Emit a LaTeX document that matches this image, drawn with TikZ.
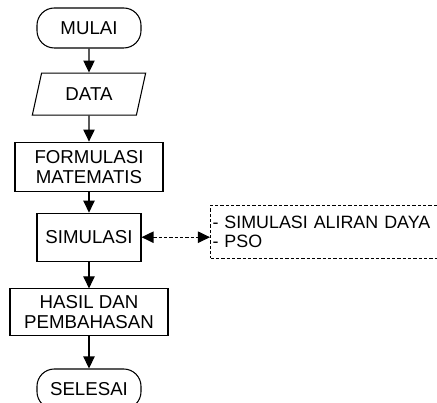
\documentclass[tikz,border=0pt]{standalone}
\usepackage{fontspec}
\setmainfont{Liberation Sans}
\usetikzlibrary{shapes,arrows.meta,positioning,shapes.geometric}

\begin{document}
\begin{tikzpicture}[x=0.75pt, y=0.75pt, node distance=18pt, font=\fontsize{14}{15}\selectfont,
    line width=0.8pt, inner sep=2pt, >={Triangle[length=9pt, width=8.5pt]}]
    \useasboundingbox (0,0) rectangle (437,403);
    % Nodes
    \node[draw, rounded corners=13pt, minimum width=78pt, minimum height=30pt] (mulai) at (89,375) {MULAI};
    \node[draw, trapezium, trapezium left angle=63, trapezium right angle=117, trapezium stretches body,
        minimum width=85pt, minimum height=31.5pt, below=18pt of mulai] (data) {DATA};
    \node[draw, rectangle, minimum width=111pt, minimum height=36.75pt, align=center, below=19.5pt of data] (formulasi) {FORMULASI\\MATEMATIS};
    \node[draw, rectangle, minimum width=78pt, minimum height=36pt, below=15.75pt of formulasi] (simulasi) {SIMULASI};
    \node[draw, rectangle, minimum width=118.5pt, minimum height=35.25pt, align=center, below=20pt of simulasi] (hasil) {HASIL DAN\\PEMBAHASAN};
    \node[draw, rounded corners=13pt, minimum width=78pt, minimum height=30pt, below=24pt of hasil] (selesai) {SELESAI};
    \node[draw, dashed, dash pattern=on 2.5pt off 1.5pt, anchor=west, minimum width=175pt, minimum height=39.75pt,
        text width=172pt, inner xsep=1.5pt, align=left, font=\fontsize{13.4}{14.5}\selectfont] (ket) at (210,171) {- SIMULASI ALIRAN DAYA\\- PSO};

    % Edges
    \draw[->] (mulai) -- (data);
    \draw[->] (data) -- (formulasi);
    \draw[->] (formulasi) -- (simulasi);
    \draw[->] (simulasi) -- (hasil);
    \draw[->] (hasil) -- (selesai);
    \draw[<->, dashed, dash pattern=on 2.5pt off 1.5pt] (simulasi.east) -- (simulasi.east -| ket.west);
\end{tikzpicture}
\end{document}
